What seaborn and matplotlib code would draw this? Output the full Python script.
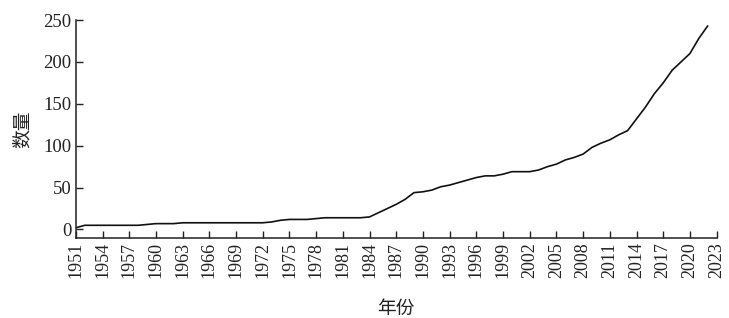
import numpy as np
import pandas as pd
import matplotlib
matplotlib.use("Agg")
import matplotlib.pyplot as plt
import seaborn as sns

years = list(range(1951, 2023))
counts = [2, 5, 5, 5, 5, 5, 5, 5, 6, 7,
          7, 7, 8, 8, 8, 8, 8, 8, 8, 8,
          8, 8, 9, 11, 12, 12, 12, 13, 14, 14,
          14, 14, 14, 15, 20, 25, 30, 36, 44, 45,
          47, 51, 53, 56, 59, 62, 64, 64, 66, 69,
          69, 69, 71, 75, 78, 83, 86, 90, 98, 103,
          107, 113, 118, 132, 146, 162, 175, 190, 200, 210,
          228, 243]
xticks = list(range(1951, 2024, 3))
yticks = [0, 50, 100, 150, 200, 250]

df = pd.DataFrame({"year": years, "count": counts})

sns.set_style("ticks")
plt.rcParams["font.family"] = ["Liberation Serif", "Noto Sans CJK SC", "DejaVu Sans"]

fig = plt.figure(figsize=(7.29, 3.18), dpi=100)
ax = fig.add_axes([0.104, 0.252, 0.879, 0.685])
sns.lineplot(data=df, x="year", y="count", ax=ax, color="#111111", linewidth=1.2)

ax.set_xlim(1951, 2023)
ax.set_ylim(-10, 250)
ax.set_xticks(xticks)
ax.set_xticklabels([str(t) for t in xticks], rotation=90, fontsize=13)
ax.set_yticks(yticks)
ax.set_yticklabels([str(t) for t in yticks], fontsize=13.5)
ax.tick_params(direction="in", length=5, width=1, colors="#222222", pad=3)
for s in ["top", "right"]:
    ax.spines[s].set_visible(False)
for s in ["left", "bottom"]:
    ax.spines[s].set_linewidth(1.1)
    ax.spines[s].set_color("#222222")

cjk = ["Noto Sans CJK SC", "DejaVu Sans"]
ax.set_xlabel("年份", fontsize=13.5, family=cjk, labelpad=14, color="#222222")
ax.set_ylabel("数量", fontsize=13.5, family=cjk, labelpad=8, color="#222222")

fig.savefig("out.png", dpi=100, facecolor="white")
